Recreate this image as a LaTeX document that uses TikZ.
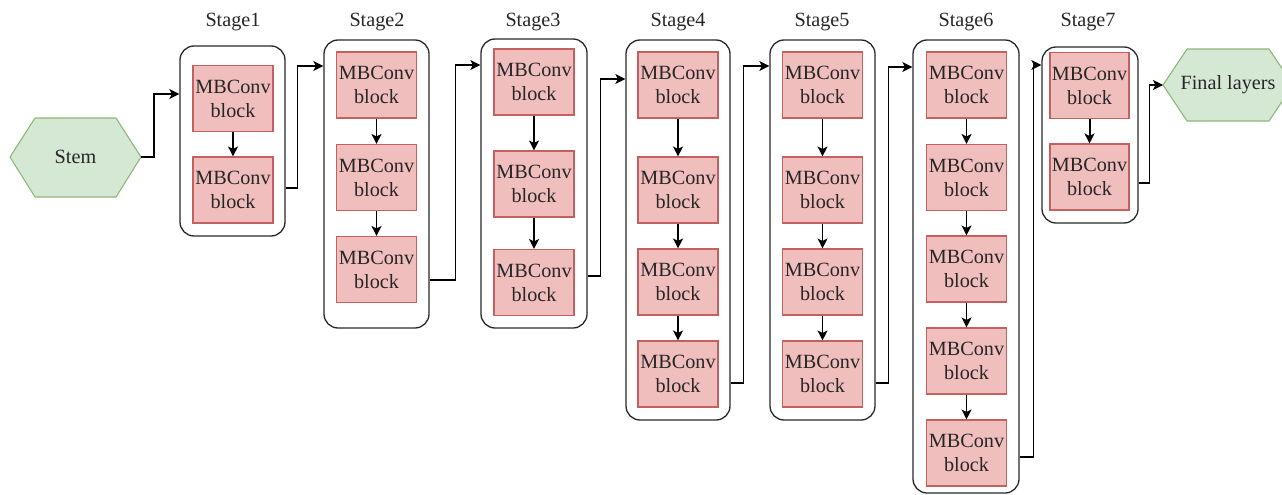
\documentclass[tikz,border=0pt]{standalone}
\usepackage{fontspec}
\setmainfont{Liberation Serif}
\usetikzlibrary{arrows.meta}
\definecolor{blkfill}{RGB}{241,190,190}
\definecolor{blkdraw}{RGB}{196,96,96}
\definecolor{hexfill}{RGB}{213,232,212}
\definecolor{hexdraw}{RGB}{140,184,118}
\definecolor{boxdraw}{RGB}{40,40,40}
\tikzset{
  txt/.style={font=\fontsize{20.2}{24}\selectfont, text=black!85, align=center, inner sep=0},
  blk/.style={txt, draw=blkdraw, fill=blkfill, line width=1.1pt, minimum width=80pt, minimum height=66pt},
  stagebox/.style={draw=boxdraw, rounded corners=14pt, line width=1.3pt, inner sep=0},
  hexa/.style={draw=hexdraw, fill=hexfill, line width=1.1pt, line join=round},
  arr/.style={draw=black, line width=1.2pt, -{Stealth[length=10pt,width=10pt,inset=2.5pt]}},
  lbl/.style={txt}
}
\begin{document}
\begin{tikzpicture}[x=1pt,y=-1pt]
\useasboundingbox (0,0) rectangle (1282,495);
% hexagons
\path[hexa] (10,157) -- (35,118) -- (116,118) -- (141,157) -- (116,197) -- (35,197) -- cycle;
\node[txt] (stem) at (75.5,157) {Stem};
\coordinate (stemE) at (141,157);
\path[hexa] (1163,85) -- (1187,49) -- (1269,49) -- (1293,85) -- (1269,121) -- (1187,121) -- cycle;
\node[txt] (final) at (1228,85) {Final layers};
\coordinate (finalW) at (1163,85);
% stage boxes
\node[stagebox, minimum width=105pt, minimum height=190pt] (s1) at (232.5,141) {};
\node[stagebox, minimum width=105pt, minimum height=288pt] (s2) at (376.5,184) {};
\node[stagebox, minimum width=106pt, minimum height=289pt] (s3) at (534,183.5) {};
\node[stagebox, minimum width=104pt, minimum height=380pt] (s4) at (678,230) {};
\node[stagebox, minimum width=105pt, minimum height=380pt] (s5) at (822.5,230) {};
\node[stagebox, minimum width=106pt, minimum height=453pt] (s6) at (966,266.5) {};
\node[stagebox, minimum width=96pt, minimum height=176pt] (s7) at (1090,135) {};
% labels
\node[lbl] (l1) at (233,22) {Stage1};
\node[lbl] (l2) at (377,22) {Stage2};
\node[lbl] (l3) at (533,22) {Stage3};
\node[lbl] (l4) at (678,22) {Stage4};
\node[lbl] (l5) at (822,22) {Stage5};
\node[lbl] (l6) at (966,22) {Stage6};
\node[lbl] (l7) at (1088,22) {Stage7};
% blocks
\node[blk] (a1) at (233,98.5) {MBConv\\block};
\node[blk] (a2) at (233,190) {MBConv\\block};
\node[blk] (b1) at (376.5,85) {MBConv\\block};
\node[blk] (b2) at (376.5,177.5) {MBConv\\block};
\node[blk] (b3) at (376.5,269.5) {MBConv\\block};
\node[blk] (c1) at (534,82) {MBConv\\block};
\node[blk] (c2) at (534,184) {MBConv\\block};
\node[blk] (c3) at (534,282.5) {MBConv\\block};
\node[blk] (d1) at (678,85) {MBConv\\block};
\node[blk] (d2) at (678,190) {MBConv\\block};
\node[blk] (d3) at (678,282) {MBConv\\block};
\node[blk] (d4) at (678,374) {MBConv\\block};
\node[blk] (e1) at (822.5,85) {MBConv\\block};
\node[blk] (e2) at (822.5,190) {MBConv\\block};
\node[blk] (e3) at (822.5,282) {MBConv\\block};
\node[blk] (e4) at (822.5,374) {MBConv\\block};
\node[blk] (f1) at (966.5,85) {MBConv\\block};
\node[blk] (f2) at (966.5,177.5) {MBConv\\block};
\node[blk] (f3) at (966.5,269) {MBConv\\block};
\node[blk] (f4) at (966.5,361) {MBConv\\block};
\node[blk] (f5) at (966.5,453) {MBConv\\block};
\node[blk, minimum width=79pt] (g1) at (1089.5,85.5) {MBConv\\block};
\node[blk, minimum width=79pt] (g2) at (1089.5,177) {MBConv\\block};
% inner arrows
\draw[arr] (a1) -- (a2);
\draw[arr] (b1) -- (b2);
\draw[arr] (b2) -- (b3);
\draw[arr] (c1) -- (c2);
\draw[arr] (c2) -- (c3);
\draw[arr] (d1) -- (d2);
\draw[arr] (d2) -- (d3);
\draw[arr] (d3) -- (d4);
\draw[arr] (e1) -- (e2);
\draw[arr] (e2) -- (e3);
\draw[arr] (e3) -- (e4);
\draw[arr] (f1) -- (f2);
\draw[arr] (f2) -- (f3);
\draw[arr] (f3) -- (f4);
\draw[arr] (f4) -- (f5);
\draw[arr, line width=2pt] (g1) -- (g2);
% stage connectors
\draw[arr] (stemE) -- ++(13,0) |- (s1.west |- 0,94);
\draw[arr] (s1.east |- 0,188) -- ++(12,0) |- (s2.west |- 0,66);
\draw[arr] (s2.east |- 0,280) -- ++(26,0) |- (s3.west |- 0,65);
\draw[arr] (s3.east |- 0,276) -- ++(13,0) |- (s4.west |- 0,79);
\draw[arr] (s4.east |- 0,383) -- ++(13,0) |- (s5.west |- 0,66);
\draw[arr] (s5.east |- 0,383) -- ++(13,0) |- (s6.west |- 0,67);
\draw[arr] (s6.east |- 0,457) -- ++(14,0) |- (s7.west |- 0,65);
\draw[arr] (s7.east |- 0,183) -- ++(11,0) |- (finalW);
\end{tikzpicture}
\end{document}
